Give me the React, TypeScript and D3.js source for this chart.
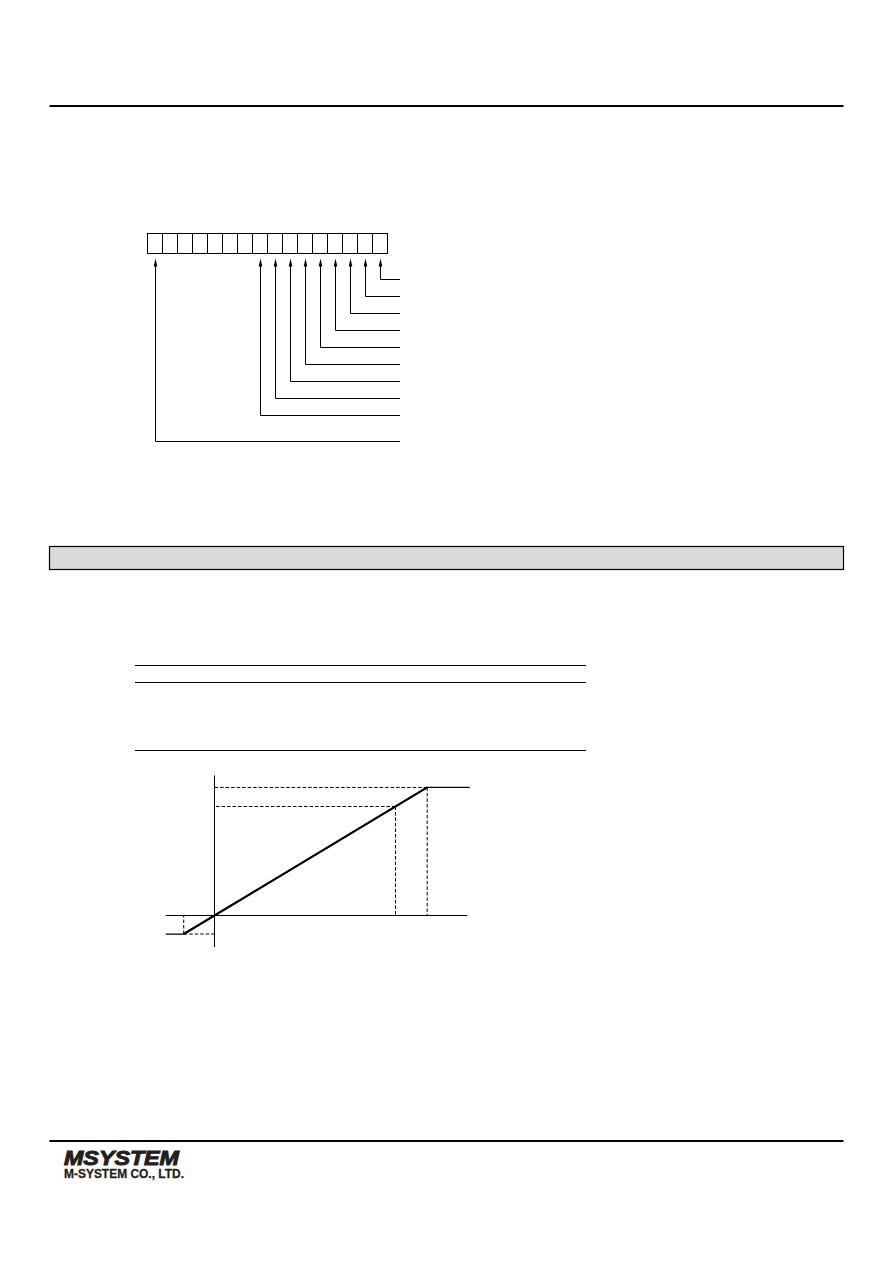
import React from 'react'
import * as d3 from 'd3'

/**
 * DATA
 */
// 16-bit register, bit 15 on the left
const bits: number[] = d3.range(15, -1, -1)
// bits that get a leader line, in order from the top row down
const flaggedBits: number[] = [0, 1, 2, 3, 4, 5, 6, 7, 8, 15]
const leaderRows: number[] = [0, 1, 2, 3, 4, 5, 6, 7, 8, 9.5]

// transfer curve (input % -> output %)
const curveInput: number[] = [-27, -17, 117.5, 141]
const curveOutput: number[] = [-17, -17, 117.5, 117.5]
// dashed guides: [input, output]
const guidePoints: [number, number][] = [[-17, -17], [100, 100], [117.5, 117.5]]
const axisInputRange: number[] = [-27, 139.6]
const axisOutputRange: number[] = [-29, 128.5]

const tableRules: number[] = [665.5, 682.5, 750.5]

/**
 * LAYOUT
 */
const W = 892
const H = 1263
const pageLeft = 49.5
const pageRight = 843.5

const Chart = () => {
  const cellScale = d3.scaleBand<number>().domain(bits).range([147.5, 387.5])
  const rowScale = d3.scaleLinear().domain([0, 1]).range([279, 296])

  const xScale = d3.scaleLinear().domain([0, 100]).range([214.5, 395.5])
  const yScale = d3.scaleLinear().domain([0, 100]).range([915.5, 806.5])

  const curve = d3.line<number>()
    .x(d => xScale(curveInput[d]))
    .y(d => yScale(curveOutput[d]))

  const cellTop = 233.5
  const cellH = 20
  const arrowTip = cellTop + cellH + 5
  const leaderEnd = 400

  const dash = '3.5,2'

  return (
    <svg width={W} height={H} viewBox={`0 0 ${W} ${H}`}
      style={{ position: 'absolute', left: 0, top: 0, background: '#fff' }}>
      {/* page rules */}
      <line x1={pageLeft} x2={pageRight} y1={106} y2={106} stroke='#000' strokeWidth={2} />
      <line x1={pageLeft} x2={pageRight} y1={1141} y2={1141} stroke='#000' strokeWidth={2} />

      {/* bit register */}
      <g>
        {bits.map(b => (
          <rect key={b} x={cellScale(b)} y={cellTop} width={cellScale.bandwidth()} height={cellH}
            fill='none' stroke='#000' strokeWidth={1} />
        ))}
        {flaggedBits.map((b, i) => {
          const cx = Math.round((cellScale(b) ?? 0) + cellScale.bandwidth() / 2) + 0.5
          const ry = Math.round(rowScale(leaderRows[i])) + 0.5
          return (
            <g key={`lead-${b}`}>
              <path d={`M${cx},${ry}V${arrowTip + 4}`} fill='none' stroke='#000' strokeWidth={1} />
              <path d={`M${cx},${ry}H${leaderEnd}`} fill='none' stroke='#000' strokeWidth={1} />
              <path d={`M${cx},${arrowTip} L${cx - 1.8},${arrowTip + 8} L${cx + 1.8},${arrowTip + 8} Z`} fill='#000' />
            </g>
          )
        })}
      </g>

      {/* section header bar */}
      <rect x={pageLeft} y={546.5} width={pageRight - pageLeft} height={23} fill='#dadada' stroke='#000' strokeWidth={1.2} />

      {/* table rules */}
      {tableRules.map((r, i) => (
        <line key={i} x1={135} x2={586} y1={r} y2={r} stroke='#000' strokeWidth={1.1} />
      ))}

      {/* transfer graph */}
      <g>
        <line x1={xScale(0)} x2={xScale(0)} y1={yScale(axisOutputRange[1])} y2={yScale(axisOutputRange[0])}
          stroke='#000' strokeWidth={1} />
        <line x1={xScale(axisInputRange[0])} x2={xScale(axisInputRange[1])} y1={yScale(0)} y2={yScale(0)}
          stroke='#000' strokeWidth={1} />
        {guidePoints.map(([inp, out], i) => (
          <g key={`guide-${i}`} fill='none' stroke='#000' strokeWidth={1} strokeDasharray={dash}>
            <line x1={xScale(inp)} x2={xScale(inp)} y1={yScale(out)} y2={yScale(0)} />
            <line x1={xScale(inp)} x2={xScale(0)} y1={yScale(out)} y2={yScale(out)} />
          </g>
        ))}
        <path d={curve([0, 1, 2, 3]) ?? ''} fill='none' stroke='#000' strokeWidth={1.2} />
        <path d={curve([1, 2]) ?? ''} fill='none' stroke='#000' strokeWidth={2.2} />
      </g>

      {/* footer logo */}
      <text x={64} y={1165} fontFamily='Liberation Sans, Arial, sans-serif' fontWeight='bold' fontStyle='italic'
        fontSize={20} textLength={115} lengthAdjust='spacingAndGlyphs' fill='#231f20'
        stroke='#231f20' strokeWidth={1}>MSYSTEM</text>
      <text x={64} y={1178} fontFamily='Liberation Sans, Arial, sans-serif' fontWeight='bold'
        fontSize={12.5} textLength={120} lengthAdjust='spacingAndGlyphs' fill='#231f20'
        stroke='#231f20' strokeWidth={0.3}>M-SYSTEM CO., LTD.</text>
    </svg>
  )
}

export default function App () {
  return <Chart />
}
